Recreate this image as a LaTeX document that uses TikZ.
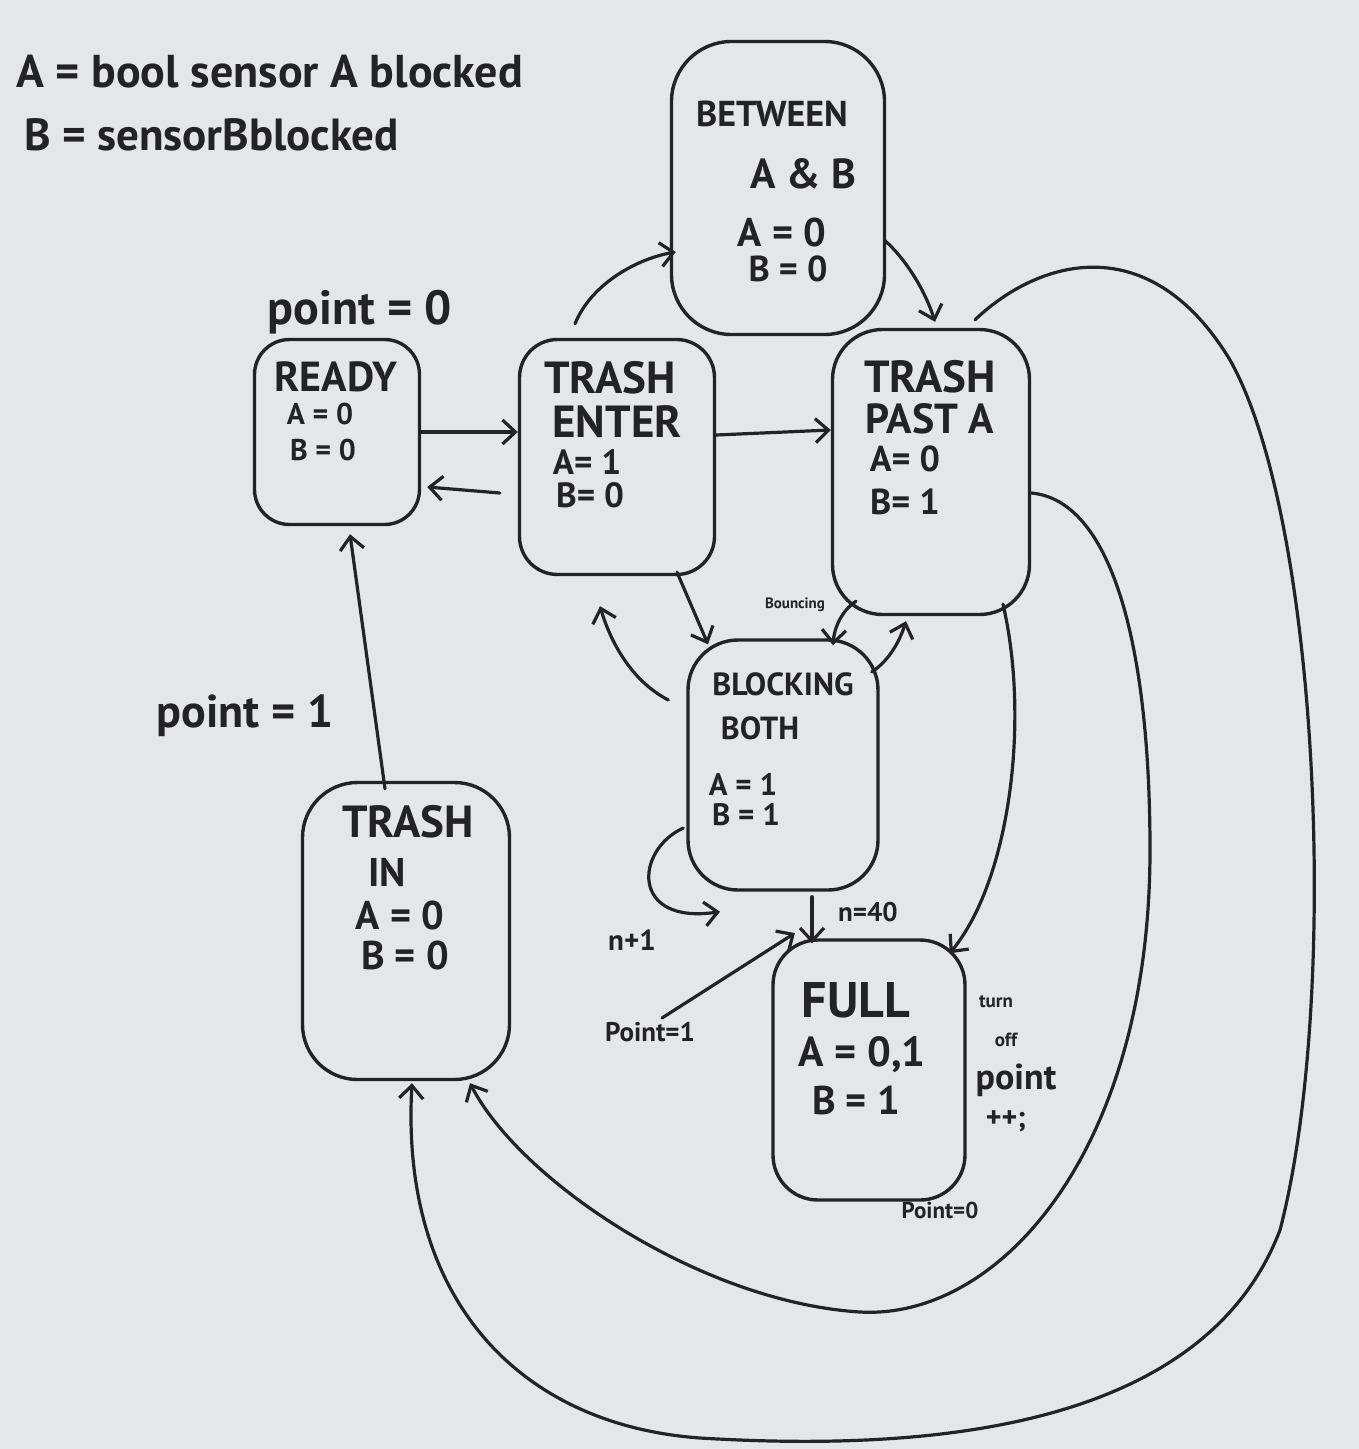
\documentclass[tikz,border=0pt]{standalone}
\usepackage{fontspec}
\setmainfont{PT Sans}
\usetikzlibrary{arrows.meta,calc}
\definecolor{board}{RGB}{229,230,232}
\definecolor{ink}{RGB}{35,35,38}
\newcommand{\hsz}[1]{\fontsize{#1}{#1}\selectfont}
\begin{document}
\begin{tikzpicture}[x=1pt,y=-1pt,
  statebox/.style={draw=ink, line width=3.4pt, rounded corners=#1, inner sep=0pt},
  statebox/.default=40pt,
  txt/.style={text=ink, inner sep=0pt, align=center},
  btxt/.style={txt, font=\bfseries},
  link/.style={draw=ink, line width=3.2pt, line cap=round, -{Straight Barb[length=13pt,width=24pt]}},
]
\fill[board] (0,0) rectangle (1359,1449);
\useasboundingbox (0,0) rectangle (1359,1449);

% legend
\node[btxt, anchor=west, font=\hsz{46}\bfseries] (legA) at (16,72) {A = bool sensor A blocked};
\node[btxt, anchor=west, font=\hsz{45}\bfseries] (legB) at (24,135) {B = sensorBblocked};

% states
\node[statebox=60pt, minimum width=213pt, minimum height=293pt] (between) at (778,188) {};
\node[statebox=35pt, minimum width=165pt, minimum height=185pt] (ready) at (337,432) {};
\node[statebox=38pt, minimum width=195pt, minimum height=235pt] (enter) at (617,457) {};
\node[statebox=50pt, minimum width=197pt, minimum height=285pt] (pastA) at (931,472) {};
\node[statebox=50pt, minimum width=190pt, minimum height=250pt] (both) at (783,765) {};
\node[statebox=55pt, minimum width=207pt, minimum height=297pt] (trashin) at (406,931) {};
\node[statebox=45pt, minimum width=192pt, minimum height=260pt] (full) at (869,1070) {};

% state texts
\node[btxt, font=\hsz{36}\bfseries] (betweenT) at (772,114) {BETWEEN};
\node[btxt, font=\hsz{42}\bfseries] (betweenAB) at (803,174) {A \& B};
\node[btxt, font=\hsz{40}\bfseries] (betweenA) at (782,232) {A = 0};
\node[btxt, font=\hsz{36}\bfseries] (betweenB) at (788,269) {B = 0};

\node[btxt, font=\hsz{42}\bfseries] (readyT) at (336,377) {READY};
\node[btxt, font=\hsz{30}\bfseries] (readyA) at (320,414) {A = 0};
\node[btxt, font=\hsz{30}\bfseries] (readyB) at (323,450) {B = 0};

\node[btxt, font=\hsz{45}\bfseries] (enterT) at (610,378) {TRASH};
\node[btxt, font=\hsz{45}\bfseries] (enterE) at (617,422) {ENTER};
\node[btxt, font=\hsz{35}\bfseries] (enterA) at (587,462) {A= 1};
\node[btxt, font=\hsz{35}\bfseries] (enterB) at (590,495) {B= 0};

\node[btxt, font=\hsz{45}\bfseries] (pastT) at (930,377) {TRASH};
\node[btxt, font=\hsz{42}\bfseries] (pastP) at (930,419) {PAST A};
\node[btxt, font=\hsz{36}\bfseries] (pastAa) at (905,459) {A= 0};
\node[btxt, font=\hsz{36}\bfseries] (pastAb) at (905,502) {B= 1};

\node[btxt, font=\hsz{32}\bfseries] (bothT) at (783,684) {BLOCKING};
\node[btxt, font=\hsz{32}\bfseries] (bothB) at (760,728) {BOTH};
\node[btxt, font=\hsz{31}\bfseries] (bothA) at (743,784) {A = 1};
\node[btxt, font=\hsz{31}\bfseries] (bothBb) at (746,815) {B = 1};

\node[btxt, font=\hsz{45}\bfseries] (inT) at (408,822) {TRASH};
\node[btxt, font=\hsz{40}\bfseries] (inI) at (387,872) {IN};
\node[btxt, font=\hsz{40}\bfseries] (inA) at (400,915) {A = 0};
\node[btxt, font=\hsz{40}\bfseries] (inB) at (405,955) {B = 0};

\node[btxt, font=\hsz{50}\bfseries] (fullT) at (856,1000) {FULL};
\node[btxt, font=\hsz{42}\bfseries] (fullA) at (862,1055) {A = 0,1};
\node[btxt, font=\hsz{40}\bfseries] (fullB) at (856,1100) {B = 1};

% free labels
\node[btxt, font=\hsz{48}\bfseries] (pt0) at (360,312) {point = 0};
\node[btxt, font=\hsz{46}\bfseries] (pt1) at (245,716) {point = 1};
\node[btxt, font=\hsz{29}\bfseries] (nplus) at (632,940) {n+1};
\node[btxt, font=\hsz{27}\bfseries] (n40) at (868,912) {n=40};
\node[btxt, font=\hsz{27}\bfseries] (p1lbl) at (650,1032) {Point=1};
\node[btxt, font=\hsz{15}\bfseries] (bounce) at (795,605) {Bouncing};
\node[btxt, font=\hsz{23}\bfseries] (p0lbl) at (940,1210) {Point=0};
\node[btxt, font=\hsz{19}\bfseries] (turnL) at (996,1002) {turn};
\node[btxt, font=\hsz{19}\bfseries] (offL) at (1006,1040) {off};
\node[btxt, font=\hsz{36}\bfseries] (pointL) at (1016,1080) {point};
\node[btxt, font=\hsz{30}\bfseries] (ppL) at (1006,1121) {++;};

% connectors
\draw[link] (ready.east) -- (ready.east -| enter.west);
\draw[link] ($(enter.west)+(-18,36)$) -- ($(ready.east)+(6,55)$);
\draw[link] ($(enter.east)+(0,-22)$) -- ($(pastA.west)+(0,-42)$);
\draw[link] ($(enter.north)+(-42,-14)$) .. controls (592,282) and (640,258) .. ($(between.west)+(6,64)$);
\draw[link] ($(between.east)+(-2,52)$) .. controls (905,258) and (925,290) .. ($(pastA.north)+(4,-6)$);
\draw[link] ($(enter.south)+(60,-4)$) -- ($(both.north)+(-75,6)$);
\draw[link] ($(both.west)+(-18,-65)$) .. controls (630,680) and (610,640) .. ($(enter.south)+(-17,30)$);
\draw[link] ($(pastA.south)+(-75,-15)$) .. controls (840,612) and (834,630) .. ($(both.north)+(50,7)$);
\draw[link] ($(both.east)+(-8,-93)$) .. controls (890,660) and (900,640) .. ($(pastA.south)+(-25,5)$);
\draw[link] ($(both.west)+(-3,63)$) .. controls (635,850) and (630,925) .. ($(both.south)+(-63,20)$);
\draw[link] ($(both.south)+(29,5)$) -- ($(full.north)+(-57,5)$);
\coordinate (p1end) at (795,933);
\draw[link] ($(p1lbl.north)+(12,-4)$) -- (p1end);
\draw[link] ($(pastA.south)+(72,-12)$) .. controls (1030,720) and (1010,880) .. ($(full.north east)+(-17,15)$);
\draw[link] ($(trashin.north)+(-21,8)$) -- ($(ready.south)+(13,8)$);
% long return curves to TRASH IN
\draw[link] ($(pastA.east)+(0,21)$) .. controls (1110,500) and (1150,640) .. (1150,850)
  .. controls (1150,1150) and (1000,1320) .. (860,1312)
  .. controls (700,1302) and (520,1180) .. ($(trashin.south)+(64,2)$);
\draw[link] ($(pastA.north)+(44,-8)$) .. controls (1040,258) and (1150,228) .. (1230,360)
  .. controls (1320,520) and (1340,1000) .. (1280,1230)
  .. controls (1200,1440) and (900,1450) .. (700,1438)
  .. controls (520,1425) and (400,1300) .. ($(trashin.south)+(6,2)$);
\end{tikzpicture}
\end{document}
